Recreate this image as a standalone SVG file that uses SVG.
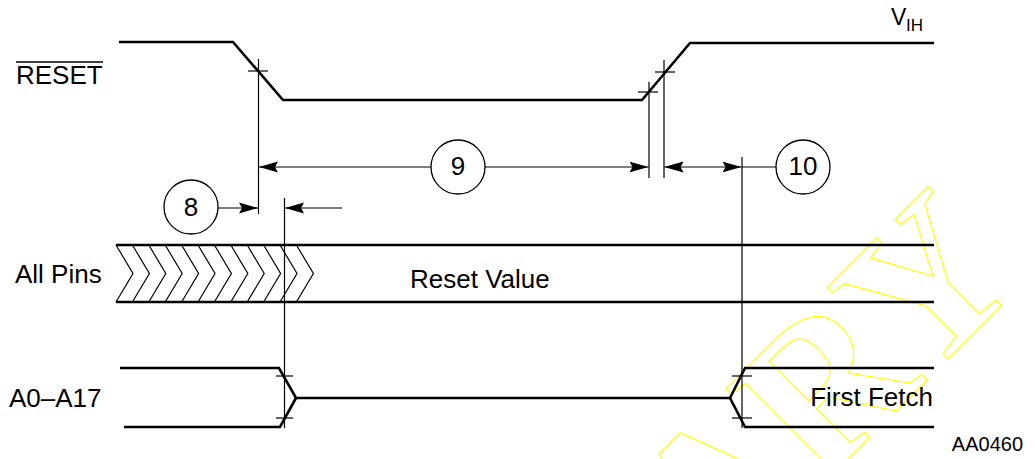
<svg xmlns="http://www.w3.org/2000/svg" width="1035" height="459" viewBox="0 0 1035 459">
<style>
text{font-family:"Liberation Sans",Arial,sans-serif;fill:#000}
.lbl{font-size:26px}
.sig{fill:none;stroke:#000;stroke-width:2.6;stroke-linejoin:miter}
.thin{fill:none;stroke:#000;stroke-width:1.2}
.dim{fill:none;stroke:#000;stroke-width:1.2}
.circ{fill:#fff;stroke:#000;stroke-width:1.3}
.wm{font-family:"Liberation Serif","Times New Roman",serif;font-weight:bold;font-size:208px;fill:none;stroke:#ffff00;stroke-width:1.1}
</style>
<defs>
<marker id="ah" viewBox="0 0 19 12" refX="19" refY="6" markerWidth="19" markerHeight="12" markerUnits="userSpaceOnUse" orient="auto-start-reverse">
<path d="M0,0.5 L19,6 L0,11.5 L3,6 Z" fill="#000"/>
</marker>
</defs>
<rect width="1035" height="459" fill="#fff"/>
<text class="wm" transform="translate(1027,280) rotate(-45)" text-anchor="end">PRELIMINARY</text>

<g id="labels">
<text class="lbl" x="16" y="84">RESET</text>
<line x1="16" y1="62" x2="103" y2="62" stroke="#000" stroke-width="1.6"/>
<text class="lbl" x="15" y="283">All Pins</text>
<text class="lbl" x="9" y="407">A0–A17</text>
<text x="891" y="25" font-size="23">V</text>
<text x="906" y="31" font-size="17">IH</text>
<text x="1023" y="451" font-size="20" text-anchor="end">AA0460</text>
</g>

<g id="reset-signal">
<polyline class="sig" points="119,42 233,42 283,100 642,100 690,43 934,43"/>
</g>

<g id="allpins-bus">
<line class="sig" x1="116" y1="245" x2="934" y2="245"/>
<line class="sig" x1="116" y1="302" x2="934" y2="302"/>
<path class="thin" d="M116,245 L133,273.5 L116,302 M132.4,245 L149.4,273.5 L132.4,302 M148.8,245 L165.8,273.5 L148.8,302 M165.2,245 L182.2,273.5 L165.2,302 M181.6,245 L198.6,273.5 L181.6,302 M198,245 L215,273.5 L198,302 M214.4,245 L231.4,273.5 L214.4,302 M230.8,245 L247.8,273.5 L230.8,302 M247.2,245 L264.2,273.5 L247.2,302 M263.6,245 L280.6,273.5 L263.6,302 M280,245 L297,273.5 L280,302 M296.4,245 L313.4,273.5 L296.4,302"/>
<text class="lbl" x="410" y="288">Reset Value</text>
</g>

<g id="address-bus">
<polyline class="sig" points="120,368 279,368 296,398 730,398 745,368 934,368"/>
<polyline class="sig" points="124,427 280,427 296,398"/>
<polyline class="sig" points="730,398 745,427 934,427"/>
<text class="lbl" x="933" y="406" text-anchor="end">First Fetch</text>
</g>

<g id="connectors">
<line class="dim" x1="258.5" y1="59" x2="258.5" y2="214"/>
<line class="dim" x1="248" y1="71" x2="268" y2="71"/>
<line class="dim" x1="649" y1="82" x2="649" y2="178"/>
<line class="dim" x1="638" y1="92" x2="658" y2="92"/>
<line class="dim" x1="664" y1="60" x2="664" y2="178"/>
<line class="dim" x1="655" y1="72" x2="675" y2="72"/>
<line class="dim" x1="284.5" y1="198" x2="284.5" y2="428"/>
<line class="dim" x1="276" y1="376" x2="293" y2="376"/>
<line class="dim" x1="276" y1="418" x2="293" y2="418"/>
<line class="dim" x1="742" y1="157" x2="742" y2="428"/>
<line class="dim" x1="732" y1="376" x2="752" y2="376"/>
<line class="dim" x1="732" y1="418" x2="752" y2="418"/>
<line class="dim" x1="431" y1="167" x2="259" y2="167" marker-end="url(#ah)"/>
<line class="dim" x1="485" y1="167" x2="648.5" y2="167" marker-end="url(#ah)"/>
<line class="dim" x1="664.5" y1="167" x2="741.5" y2="167" marker-start="url(#ah)" marker-end="url(#ah)"/>
<line class="dim" x1="742" y1="167" x2="776" y2="167"/>
<line class="dim" x1="218" y1="208" x2="258" y2="208" marker-end="url(#ah)"/>
<line class="dim" x1="342" y1="208" x2="285" y2="208" marker-end="url(#ah)"/>
</g>

<g id="t8">
<circle class="circ" cx="191" cy="207" r="27"/>
<text class="lbl" x="191" y="216" text-anchor="middle">8</text>
</g>
<g id="t9">
<circle class="circ" cx="458" cy="167" r="27"/>
<text class="lbl" x="458" y="175" text-anchor="middle">9</text>
</g>
<g id="t10">
<circle class="circ" cx="803" cy="167" r="27"/>
<text class="lbl" x="803" y="175" text-anchor="middle">10</text>
</g>
</svg>
